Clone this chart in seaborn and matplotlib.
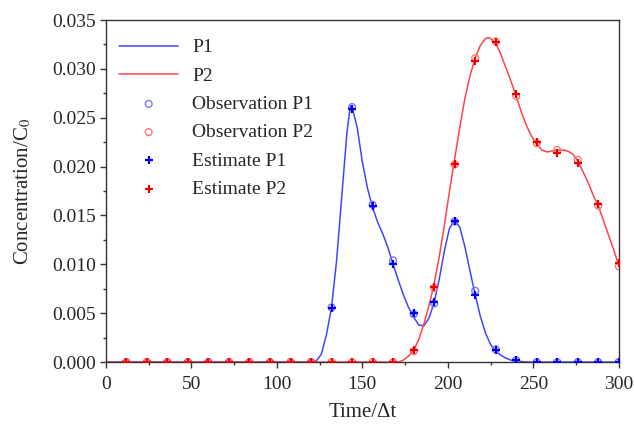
import numpy as np
import pandas as pd
import matplotlib
matplotlib.use("Agg")
import matplotlib.pyplot as plt
from matplotlib.ticker import MultipleLocator
import seaborn as sns

# ---------------- data ----------------
t_obs = [12, 24, 36, 48, 60, 72, 84, 96, 108, 120, 132, 144, 156, 168, 180,
         192, 204, 216, 228, 240, 252, 264, 276, 288, 300]
obs_p1 = [0, 0, 0, 0, 0, 0, 0, 0, 0, 0, 0.0056, 0.0261, 0.0161, 0.0104, 0.0049,
          0.0060, 0.0144, 0.0073, 0.0013, 0.0002, 0, 0, 0, 0, 0]
est_p1 = [0, 0, 0, 0, 0, 0, 0, 0, 0, 0, 0.0055, 0.0259, 0.0160, 0.0100, 0.0050,
          0.0062, 0.0144, 0.0069, 0.0012, 0.0002, 0, 0, 0, 0, 0]
obs_p2 = [0, 0, 0, 0, 0, 0, 0, 0, 0, 0, 0, 0, 0, 0, 0.0011,
          0.0076, 0.0202, 0.0311, 0.0328, 0.0272, 0.0224, 0.0217, 0.0207, 0.0160, 0.0098]
est_p2 = [0, 0, 0, 0, 0, 0, 0, 0, 0, 0, 0, 0, 0, 0, 0.0012,
          0.0077, 0.0203, 0.0308, 0.0328, 0.0274, 0.0225, 0.0214, 0.0204, 0.0162, 0.0101]

t_line1 = [0, 120, 123, 126, 129, 132, 135, 138, 141, 143, 144, 147, 150, 153, 156,
           159, 162, 165, 168, 171, 174, 177, 180, 183, 186, 189, 192, 195, 198,
           201, 204, 207, 210, 213, 216, 219, 222, 225, 228, 231, 234, 237, 240,
           246, 300]
p1_line = [0, 0, 0.0001, 0.0008, 0.0028, 0.0056, 0.0105, 0.0170, 0.0235, 0.0262,
           0.0261, 0.0240, 0.0205, 0.0178, 0.0158, 0.0143, 0.0131, 0.0117, 0.0100,
           0.0084, 0.0069, 0.0056, 0.0046, 0.0038, 0.0037, 0.0045, 0.0061, 0.0085,
           0.0114, 0.0137, 0.0145, 0.0138, 0.0118, 0.0093, 0.0069, 0.0047, 0.0030,
           0.0018, 0.0011, 0.0007, 0.0004, 0.0002, 0.0001, 0.0, 0.0]

t_line2 = [0, 168, 171, 174, 177, 180, 183, 186, 189, 192, 195, 198, 201, 204, 207,
           210, 213, 216, 219, 222, 224, 225, 228, 231, 234, 237, 240, 243, 246,
           249, 252, 255, 258, 261, 264, 267, 270, 273, 276, 279, 282, 285, 288,
           291, 294, 297, 300]
p2_line = [0, 0, 0.0000, 0.0002, 0.0006, 0.0012, 0.0023, 0.0039, 0.0058, 0.0080,
           0.0108, 0.0140, 0.0175, 0.0208, 0.0240, 0.0270, 0.0293, 0.0311, 0.0324,
           0.0331, 0.0332, 0.0331, 0.0326, 0.0315, 0.0301, 0.0287, 0.0272, 0.0256,
           0.0242, 0.0231, 0.0223, 0.0217, 0.0215, 0.0216, 0.0217, 0.0217, 0.0216,
           0.0213, 0.0206, 0.0195, 0.0184, 0.0171, 0.0160, 0.0145, 0.0130, 0.0115,
           0.0099]

# ---------------- style ----------------
sns.set_theme(style="ticks")
plt.rcParams['font.family'] = ['Liberation Serif', 'DejaVu Serif']
plt.rcParams['mathtext.fontset'] = 'stix'
FS = 14

blue_line = "#4444ff"
red_line = "#ff4444"
blue_obs = "#7777ff"
red_obs = "#ff7777"
blue_est = "#0000ee"
red_est = "#ee0000"

fig = plt.figure(figsize=(6.34, 4.26), dpi=100)
ax = fig.add_axes([0.167, 0.150, 0.809, 0.803])

sns.lineplot(x=t_line1, y=p1_line, color=blue_line, lw=1.1, label="P1", ax=ax,
             sort=False, estimator=None)
sns.lineplot(x=t_line2, y=p2_line, color=red_line, lw=1.1, label="P2", ax=ax,
             sort=False, estimator=None)
sns.scatterplot(x=t_obs, y=obs_p1, marker="o", s=24, facecolor="none",
                edgecolor=blue_obs, linewidth=1.0, label="Observation P1", ax=ax, zorder=3)
sns.scatterplot(x=t_obs, y=obs_p2, marker="o", s=24, facecolor="none",
                edgecolor=red_obs, linewidth=1.0, label="Observation P2", ax=ax, zorder=3)
sns.scatterplot(x=t_obs, y=est_p1, marker="+", s=30, color=blue_est,
                linewidth=1.6, label="Estimate P1", ax=ax, zorder=4)
sns.scatterplot(x=t_obs, y=est_p2, marker="+", s=30, color=red_est,
                linewidth=1.6, label="Estimate P2", ax=ax, zorder=4)

ax.set_xlim(0, 300)
ax.set_ylim(0, 0.035)
ax.xaxis.set_major_locator(MultipleLocator(50))
ax.xaxis.set_minor_locator(MultipleLocator(25))
ax.yaxis.set_major_locator(MultipleLocator(0.005))
ax.yaxis.set_minor_locator(MultipleLocator(0.0025))
ax.yaxis.set_major_formatter(matplotlib.ticker.FormatStrFormatter('%.3f'))

for s in ax.spines.values():
    s.set_color("#333333")
    s.set_linewidth(1.0)
ax.tick_params(axis="both", which="major", direction="out", length=4,
               width=1.0, color="#333333", labelsize=FS)
ax.tick_params(axis="x", which="major", pad=6)
ax.tick_params(axis="y", which="major", pad=3)
ax.tick_params(axis="both", which="minor", direction="out", length=2.5,
               width=1.0, color="#333333")

ax.set_xlabel("Time/\u0394t", fontsize=FS + 1, labelpad=7)
ax.set_ylabel("Concentration/C$_0$", fontsize=FS + 1, labelpad=14)

leg = ax.legend(loc="upper left", frameon=False, fontsize=FS, handlelength=3.0,
                labelspacing=0.55, handletextpad=0.75, borderaxespad=0.3,
                bbox_to_anchor=(0.0, 0.985))

fig.savefig("out.png", dpi=100)
